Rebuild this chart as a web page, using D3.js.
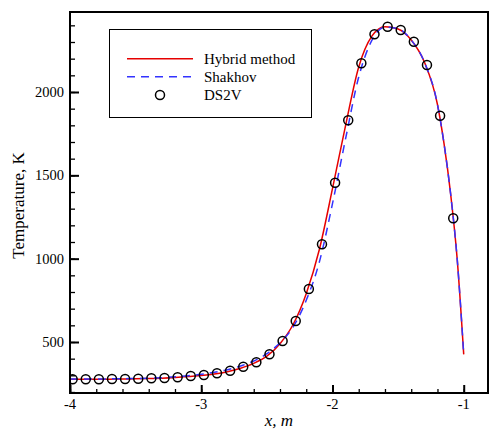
<!DOCTYPE html>
<html>
<head>
<meta charset="utf-8">
<script src="https://cdn.jsdelivr.net/npm/d3@7"></script>
<style>
  html, body { margin: 0; padding: 0; background: #fff; }
  svg { display: block; }
  text { font-family: "Liberation Serif", "Times New Roman", serif; fill: #000; }
</style>
</head>
<body>
<svg id="chart" width="492" height="434"></svg>
<script>
// Temperature profile along x: two kinetic models and DS2V reference points
const hybridX = [-4.0, -3.9, -3.8, -3.7, -3.6, -3.5, -3.4, -3.3, -3.2, -3.1, -3.0,
  -2.9, -2.8, -2.7, -2.6, -2.5, -2.4, -2.3, -2.2, -2.1, -2.0, -1.9, -1.8, -1.7,
  -1.6, -1.5, -1.4, -1.3, -1.2, -1.15, -1.1, -1.05, -1.0];
const hybridT = [276, 276, 276, 277, 278, 279, 281, 283, 287, 293, 299,
  308, 322, 343, 372, 415, 490, 605, 790, 1055, 1420, 1800, 2150, 2335,
  2392, 2378, 2312, 2180, 1925, 1690, 1390, 1000, 426];

const shakhovX = hybridX;
const shakhovT = [278, 278, 278, 279, 280, 281, 283, 286, 291, 298, 306,
  318, 334, 356, 386, 430, 495, 590, 750, 980, 1330, 1720, 2090, 2310,
  2390, 2380, 2312, 2180, 1925, 1690, 1390, 1000, 426];

const ds2vX = [-3.98, -3.88, -3.78, -3.68, -3.58, -3.48, -3.38, -3.28, -3.18, -3.08,
  -2.98, -2.88, -2.78, -2.68, -2.58, -2.48, -2.38, -2.28, -2.18, -2.08,
  -1.98, -1.88, -1.78, -1.68, -1.58, -1.48, -1.38, -1.28, -1.18, -1.08];
const ds2vT = [276, 276, 276, 278, 278, 280, 282, 284, 288, 296,
  302, 312, 328, 352, 378, 426, 506, 626, 818, 1086,
  1456, 1830, 2172, 2346, 2392, 2372, 2302, 2162, 1858, 1242];

const xMajor = [-4, -3, -2, -1];
const xMinor = d3.range(-4, -0.85, 0.2).map(v => +v.toFixed(2));
const yMajor = [500, 1000, 1500, 2000];
const yMinor = d3.range(200, 2401, 100);

const legendItems = ["Hybrid method", "Shakhov", "DS2V"];

const svg = d3.select("#chart");
const pL = 70, pR = 488, pT = 12, pB = 393;

const x = d3.scaleLinear().domain([-4, -0.815]).range([pL, pR]);
const y = d3.scaleLinear().domain([194, 2480]).range([pB, pT]);

// clip for the curves
svg.append("defs").append("clipPath").attr("id", "plotclip")
  .append("rect").attr("x", pL).attr("y", pT)
  .attr("width", pR - pL).attr("height", pB - pT);

const plot = svg.append("g").attr("clip-path", "url(#plotclip)");

const line = d3.line().x(d => x(d[0])).y(d => y(d[1])).curve(d3.curveMonotoneX);

plot.append("path")
  .datum(hybridX.map((v, i) => [v, hybridT[i]]))
  .attr("d", line)
  .attr("fill", "none").attr("stroke", "#e60000").attr("stroke-width", 1.5);

plot.append("path")
  .datum(shakhovX.map((v, i) => [v, shakhovT[i]]))
  .attr("d", line)
  .attr("fill", "none").attr("stroke", "#3333ff").attr("stroke-width", 1.5)
  .attr("stroke-dasharray", "8,6");

plot.selectAll("circle.ds2v")
  .data(ds2vX.map((v, i) => [v, ds2vT[i]]))
  .enter().append("circle")
  .attr("class", "ds2v")
  .attr("cx", d => x(d[0])).attr("cy", d => y(d[1]))
  .attr("r", 4.5)
  .attr("fill", "none").attr("stroke", "#000").attr("stroke-width", 1.5);

// axes: ticks pointing inward
const xAxisMinor = d3.axisTop(x).tickValues(xMinor).tickSize(4).tickFormat("");
const xAxisMajor = d3.axisTop(x).tickValues(xMajor).tickSize(8).tickFormat("");
const yAxisMinor = d3.axisRight(y).tickValues(yMinor).tickSize(5).tickFormat("");
const yAxisMajor = d3.axisRight(y).tickValues(yMajor).tickSize(9).tickFormat("");

function styleAxis(g) {
  g.select(".domain").remove();
  g.selectAll(".tick line").attr("stroke", "#000").attr("stroke-width", 1.3);
}
svg.append("g").attr("transform", `translate(0,${pB})`).call(xAxisMinor).call(styleAxis);
svg.append("g").attr("transform", `translate(0,${pB})`).call(xAxisMajor).call(styleAxis)
  .selectAll(".tick line").attr("stroke-width", 2);
svg.append("g").attr("transform", `translate(${pL},0)`).call(yAxisMinor).call(styleAxis);
svg.append("g").attr("transform", `translate(${pL},0)`).call(yAxisMajor).call(styleAxis)
  .selectAll(".tick line").attr("stroke-width", 2);

// tick labels
svg.append("g").selectAll("text").data(xMajor).enter().append("text")
  .attr("x", d => x(d)).attr("y", 409)
  .attr("text-anchor", "middle").attr("font-size", 14.5)
  .text(d => d);
svg.append("g").selectAll("text").data(yMajor).enter().append("text")
  .attr("x", 64).attr("y", d => y(d) + 5)
  .attr("text-anchor", "end").attr("font-size", 14.5)
  .text(d => d);

// frame
svg.append("rect").attr("x", pL).attr("y", pT)
  .attr("width", pR - pL).attr("height", pB - pT)
  .attr("fill", "none").attr("stroke", "#000").attr("stroke-width", 2);

// axis titles
svg.append("text").attr("x", (pL + pR) / 2).attr("y", 426)
  .attr("text-anchor", "middle").attr("font-size", 17).attr("font-style", "italic")
  .text("x, m");
svg.append("text")
  .attr("transform", `translate(24,${(pT + pB) / 2 + 3}) rotate(-90)`)
  .attr("text-anchor", "middle").attr("font-size", 17)
  .text("Temperature, K");

// legend
const lg = svg.append("g");
lg.append("rect").attr("x", 109.5).attr("y", 29.5).attr("width", 202).attr("height", 88)
  .attr("fill", "#fff").attr("stroke", "#000").attr("stroke-width", 1);
const rows = [58.7, 76.7, 95];
lg.append("line").attr("x1", 127).attr("x2", 193).attr("y1", rows[0]).attr("y2", rows[0])
  .attr("stroke", "#e60000").attr("stroke-width", 1.5);
lg.append("line").attr("x1", 127).attr("x2", 193).attr("y1", rows[1]).attr("y2", rows[1])
  .attr("stroke", "#3333ff").attr("stroke-width", 1.5).attr("stroke-dasharray", "8,6");
lg.append("circle").attr("cx", 160).attr("cy", rows[2]).attr("r", 4.5)
  .attr("fill", "none").attr("stroke", "#000").attr("stroke-width", 1.5);
lg.selectAll("text.item").data(legendItems).enter().append("text")
  .attr("class", "item")
  .attr("x", 204).attr("y", (d, i) => rows[i] + 5)
  .attr("font-size", 15)
  .text(d => d);
</script>
</body>
</html>
